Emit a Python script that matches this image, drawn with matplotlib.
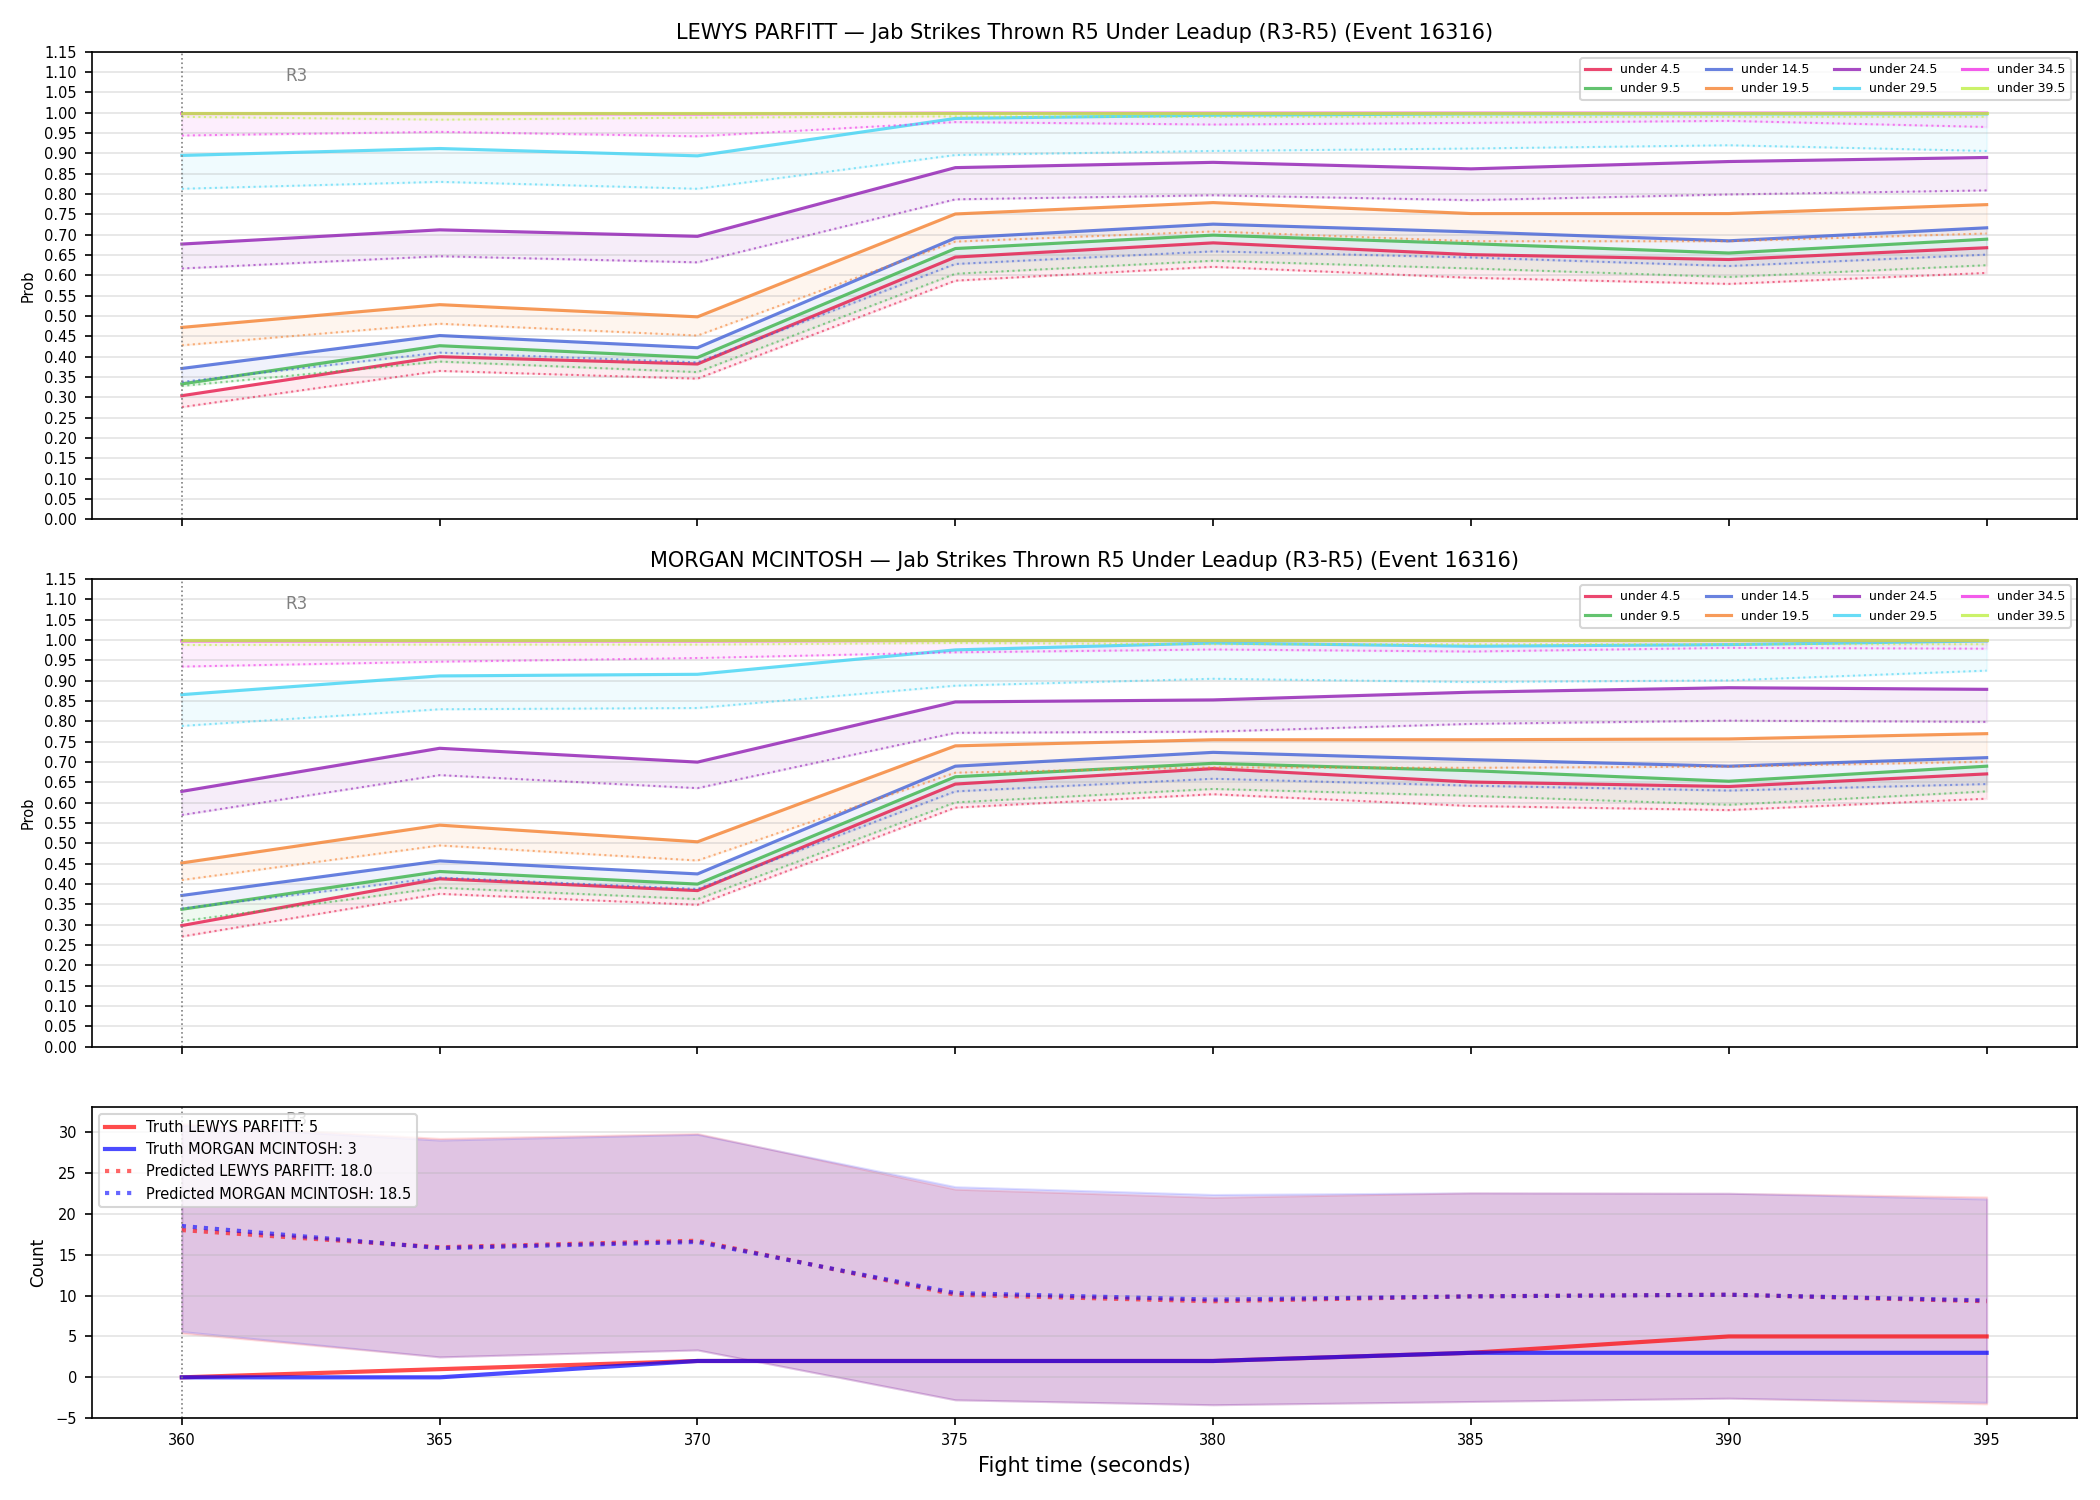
import matplotlib
matplotlib.use("Agg")
import matplotlib.pyplot as plt
import numpy as np

times = [360, 365, 370, 375, 380, 385, 390, 395]
thresholds = ["under 4.5", "under 9.5", "under 14.5", "under 19.5",
              "under 24.5", "under 29.5", "under 34.5", "under 39.5"]
colors = ["#e6194b", "#3cb44b", "#4363d8", "#f58231",
          "#911eb4", "#42d4f4", "#f032e6", "#bfef45"]

# LEWYS PARFITT probabilities (solid = upper, dotted = lower)
lp_upper = [
    [0.304, 0.400, 0.382, 0.645, 0.680, 0.651, 0.639, 0.668],
    [0.333, 0.427, 0.398, 0.666, 0.699, 0.678, 0.655, 0.689],
    [0.371, 0.452, 0.422, 0.692, 0.726, 0.707, 0.685, 0.717],
    [0.472, 0.528, 0.498, 0.751, 0.779, 0.752, 0.752, 0.774],
    [0.677, 0.712, 0.696, 0.865, 0.878, 0.862, 0.880, 0.890],
    [0.895, 0.912, 0.894, 0.986, 0.994, 0.997, 0.997, 0.997],
    [0.998, 0.998, 0.997, 0.999, 0.999, 0.999, 0.999, 0.999],
    [1.000, 1.000, 1.000, 1.000, 1.000, 1.000, 1.000, 1.000],
]
lp_lower = [
    [0.276, 0.365, 0.346, 0.587, 0.621, 0.594, 0.579, 0.606],
    [0.328, 0.388, 0.362, 0.604, 0.636, 0.617, 0.596, 0.625],
    [0.338, 0.410, 0.386, 0.628, 0.659, 0.644, 0.623, 0.651],
    [0.428, 0.481, 0.452, 0.683, 0.708, 0.684, 0.684, 0.703],
    [0.617, 0.647, 0.632, 0.787, 0.797, 0.785, 0.799, 0.809],
    [0.813, 0.830, 0.813, 0.896, 0.906, 0.912, 0.920, 0.906],
    [0.944, 0.953, 0.942, 0.977, 0.971, 0.975, 0.980, 0.965],
    [0.990, 0.983, 0.988, 0.991, 0.990, 0.990, 0.990, 0.990],
]

# MORGAN MCINTOSH probabilities
mm_upper = [
    [0.298, 0.413, 0.384, 0.646, 0.684, 0.651, 0.640, 0.671],
    [0.338, 0.431, 0.400, 0.664, 0.697, 0.679, 0.653, 0.690],
    [0.372, 0.457, 0.425, 0.690, 0.724, 0.706, 0.690, 0.711],
    [0.452, 0.545, 0.504, 0.740, 0.755, 0.755, 0.757, 0.770],
    [0.628, 0.734, 0.700, 0.848, 0.853, 0.872, 0.883, 0.879],
    [0.866, 0.912, 0.916, 0.976, 0.993, 0.985, 0.989, 0.998],
    [0.998, 0.998, 0.998, 0.999, 0.999, 0.999, 0.999, 0.999],
    [1.000, 1.000, 1.000, 1.000, 1.000, 1.000, 1.000, 1.000],
]
mm_lower = [
    [0.271, 0.376, 0.349, 0.588, 0.621, 0.592, 0.582, 0.610],
    [0.309, 0.391, 0.363, 0.601, 0.634, 0.617, 0.595, 0.628],
    [0.340, 0.416, 0.388, 0.628, 0.659, 0.642, 0.630, 0.646],
    [0.410, 0.495, 0.458, 0.674, 0.687, 0.686, 0.689, 0.701],
    [0.570, 0.668, 0.636, 0.772, 0.775, 0.794, 0.802, 0.799],
    [0.789, 0.830, 0.833, 0.888, 0.905, 0.897, 0.901, 0.925],
    [0.935, 0.947, 0.956, 0.970, 0.977, 0.972, 0.981, 0.979],
    [0.988, 0.989, 0.989, 0.993, 0.990, 0.990, 0.990, 0.990],
]

# Counts
truth_lp = [0, 1, 2, 2, 2, 3, 5, 5]
truth_mm = [0, 0, 2, 2, 2, 3, 3, 3]
pred_lp = [18.0, 15.9, 16.7, 10.1, 9.3, 9.9, 10.1, 9.3]
pred_mm = [18.5, 15.8, 16.55, 10.3, 9.5, 9.9, 10.1, 9.4]
lp_hi = [31.0, 29.2, 29.8, 23.0, 22.0, 22.55, 22.5, 22.05]
lp_lo = [5.4, 2.5, 3.35, -2.75, -3.35, -2.95, -2.55, -3.25]
mm_hi = [30.8, 29.0, 29.7, 23.3, 22.35, 22.55, 22.5, 21.8]
mm_lo = [5.6, 2.5, 3.35, -2.75, -3.35, -2.95, -2.55, -3.05]

names = ["LEWYS PARFITT", "MORGAN MCINTOSH"]
title_tail = " \u2014 Jab Strikes Thrown R5 Under Leadup (R3-R5) (Event 16316)"

fig = plt.figure(figsize=(14, 10), dpi=150)
gs = fig.add_gridspec(3, 1, height_ratios=[3, 3, 2], hspace=0.144,
                      left=0.0436, right=0.989, top=0.9655, bottom=0.0545)
ax1 = fig.add_subplot(gs[0])
ax2 = fig.add_subplot(gs[1], sharex=ax1)
ax3 = fig.add_subplot(gs[2], sharex=ax1)

for ax, name, up, lo in [(ax1, names[0], lp_upper, lp_lower),
                         (ax2, names[1], mm_upper, mm_lower)]:
    for lab, c, u, l in zip(thresholds, colors, up, lo):
        ax.plot(times, u, color=c, lw=1.5, alpha=0.8, label=lab)
        ax.plot(times, l, color=c, lw=1.0, ls=":", alpha=0.6)
        ax.fill_between(times, l, u, color=c, alpha=0.08)
    ax.axvline(360, color="gray", ls=":", lw=0.8)
    ax.text(362, 1.09, "R3", color="gray", fontsize=8, va="center", ha="left")
    ax.set_ylim(0, 1.15)
    ax.set_yticks(np.arange(0, 1.151, 0.05))
    ax.yaxis.set_major_formatter(matplotlib.ticker.FormatStrFormatter("%.2f"))
    ax.set_ylabel("Prob", fontsize=7)
    ax.set_title(name + title_tail, fontsize=10)
    ax.grid(axis="y", alpha=0.35)
    ax.tick_params(axis="both", labelsize=7)
    ax.tick_params(axis="x", labelbottom=False)
    ax.legend(loc="upper right", ncol=4, fontsize=6)

ax3.fill_between(times, lp_lo, lp_hi, color="red", alpha=0.12)
ax3.fill_between(times, mm_lo, mm_hi, color="blue", alpha=0.12)
ax3.plot(times, truth_lp, color="red", lw=2, alpha=0.7,
         label="Truth LEWYS PARFITT: %d" % truth_lp[-1])
ax3.plot(times, truth_mm, color="blue", lw=2, alpha=0.7,
         label="Truth MORGAN MCINTOSH: %d" % truth_mm[-1])
ax3.plot(times, pred_lp, color="red", lw=2, ls=":", alpha=0.6,
         label="Predicted LEWYS PARFITT: %.1f" % pred_lp[0])
ax3.plot(times, pred_mm, color="blue", lw=2, ls=":", alpha=0.6,
         label="Predicted MORGAN MCINTOSH: %.1f" % pred_mm[0])
ax3.axvline(360, color="gray", ls=":", lw=0.8)
ax3.text(362, 31.5, "R3", color="gray", fontsize=8, va="center", ha="left")
ax3.set_ylim(-5, 33.1)
ax3.set_ylabel("Count", fontsize=8)
ax3.set_xlabel("Fight time (seconds)", fontsize=10)
ax3.grid(axis="y", alpha=0.35)
ax3.tick_params(axis="both", labelsize=7)
ax3.set_xticks(times)
ax3.legend(loc="upper left", fontsize=7)

fig.savefig("out.png", dpi=150)
